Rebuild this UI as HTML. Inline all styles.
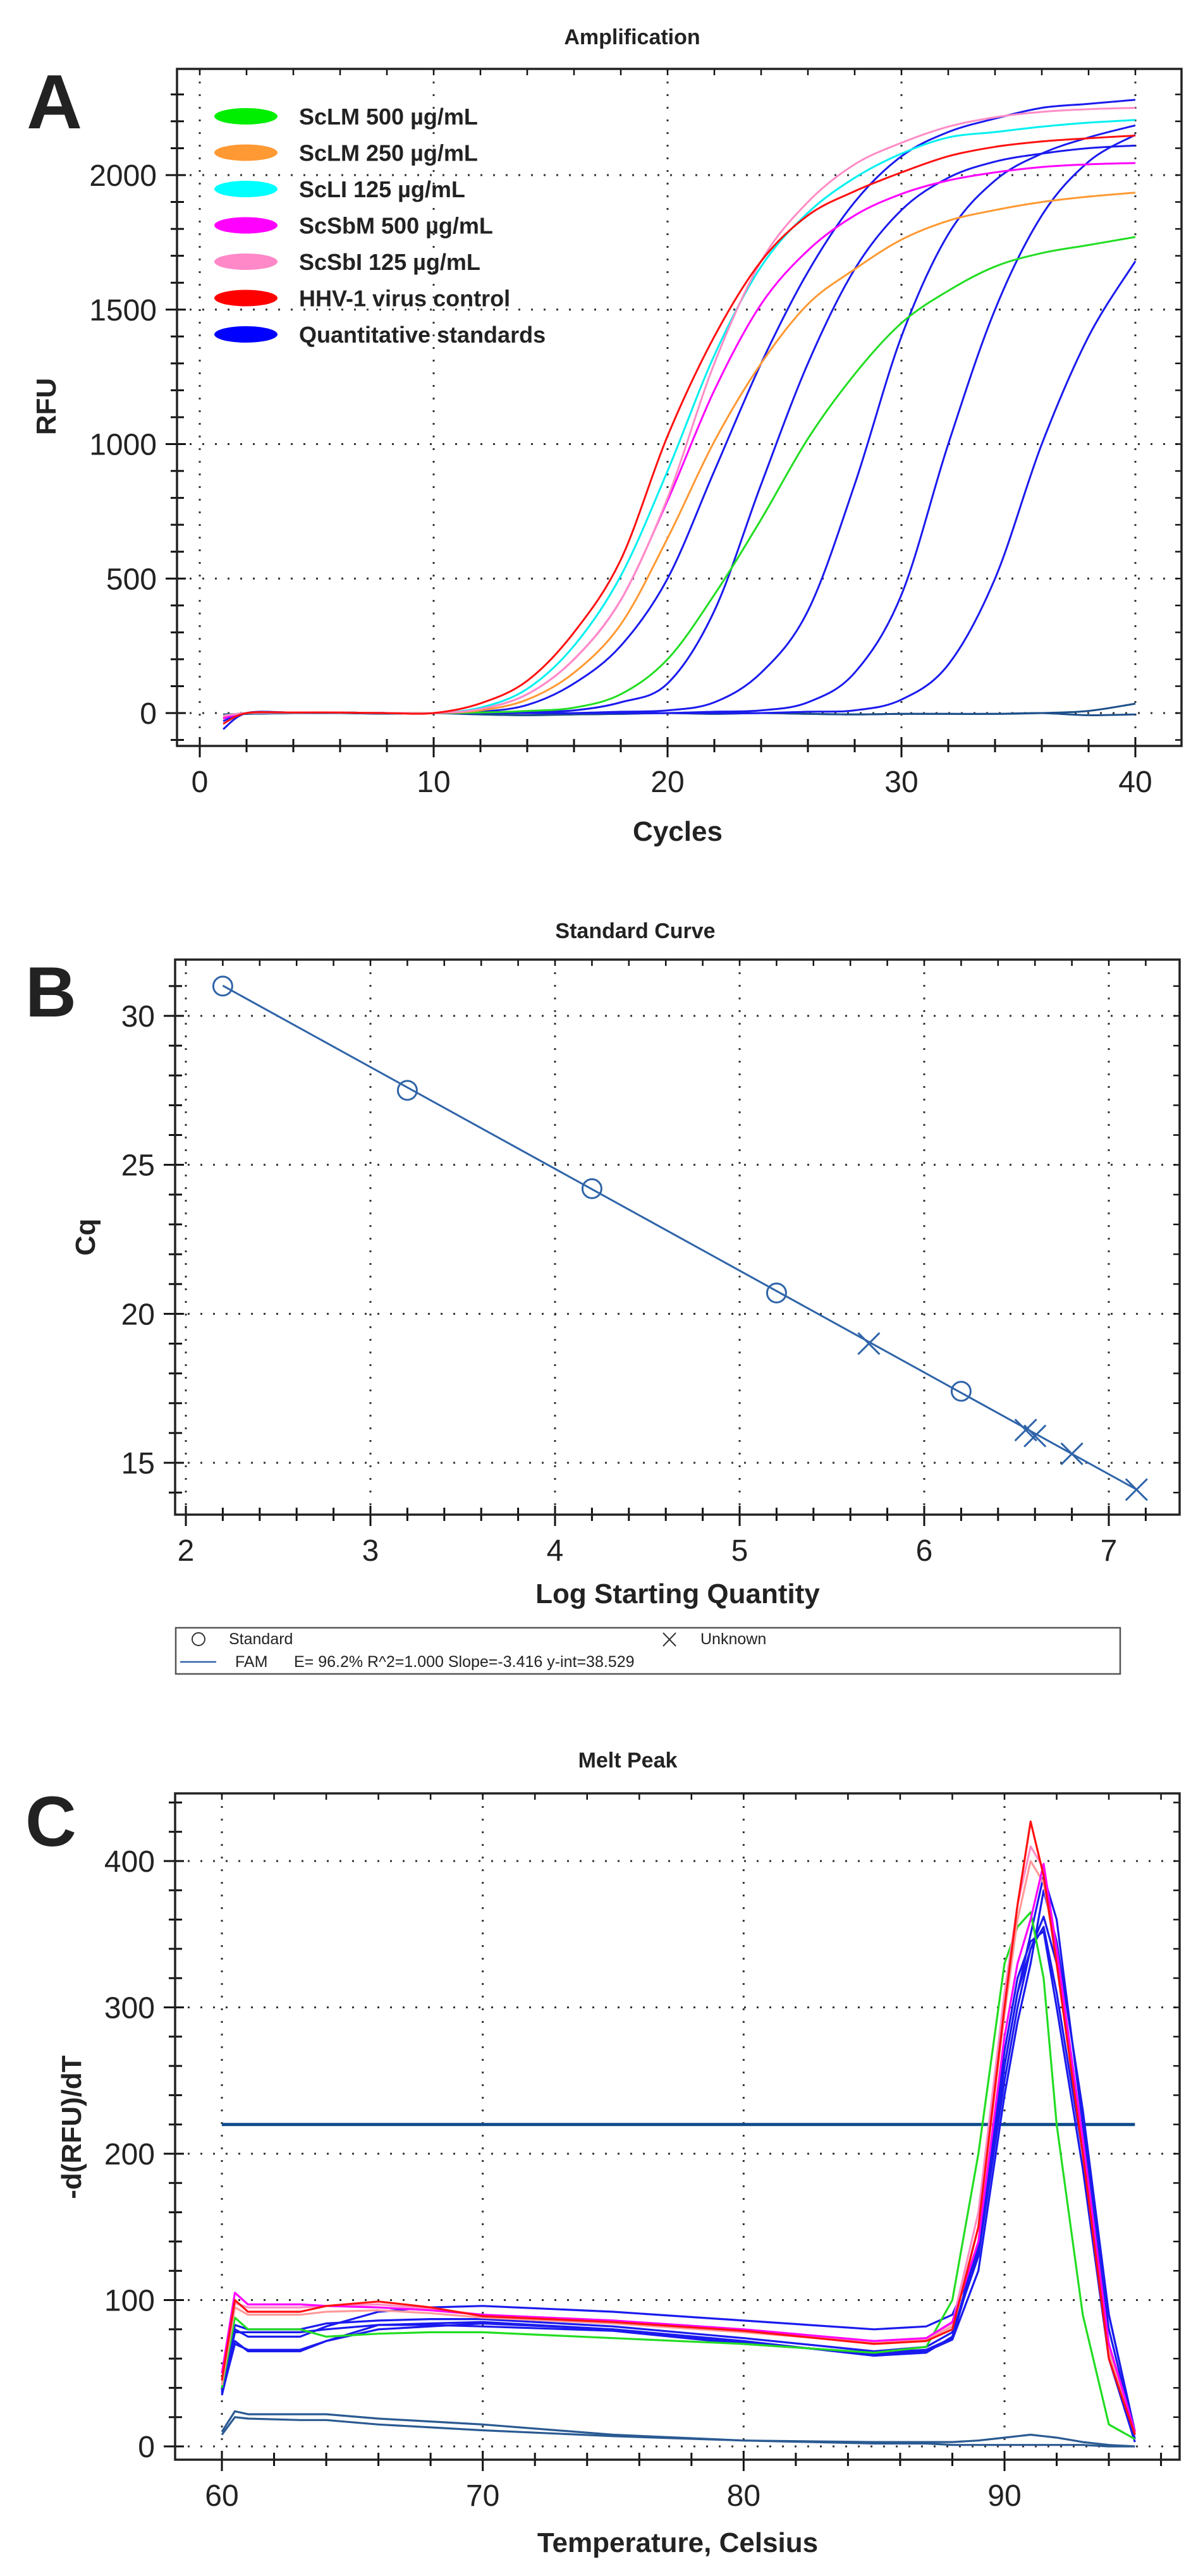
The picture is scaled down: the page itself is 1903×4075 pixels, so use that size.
<!DOCTYPE html>
<html><head><meta charset="utf-8"><title>qPCR figure</title>
<style>
html,body{margin:0;padding:0;background:#fff;}
svg{display:block;}
text{font-family:"Liberation Sans Narrow","Liberation Sans",sans-serif;fill:#222;}
.b{font-family:"Liberation Sans",sans-serif;font-weight:bold;}
</style></head>
<body>
<svg id="fig" width="1903" height="4075" viewBox="0 0 1903 4075" xmlns="http://www.w3.org/2000/svg">
<text class="b" x="42" y="203" font-size="122" fill="#2a2a2a">A</text>
<text class="b" x="40" y="1608" font-size="112" fill="#2a2a2a">B</text>
<text class="b" x="40" y="2920" font-size="112" fill="#2a2a2a">C</text>
<text class="b" x="1000" y="70" font-size="34" text-anchor="middle">Amplification</text>
<text class="b" x="1005" y="1484" font-size="34" text-anchor="middle">Standard Curve</text>
<text class="b" x="993" y="2796" font-size="34" text-anchor="middle">Melt Peak</text>
<text class="b" x="1072" y="1330" font-size="44" text-anchor="middle">Cycles</text>
<text class="b" x="88" y="643" font-size="44" text-anchor="middle" transform="rotate(-90 88 643)">RFU</text>
<text class="b" x="1072" y="2536" font-size="44" text-anchor="middle">Log Starting Quantity</text>
<text class="b" x="150" y="1957" font-size="44" text-anchor="middle" transform="rotate(-90 150 1957)">Cq</text>
<text class="b" x="1072" y="4037" font-size="44" text-anchor="middle">Temperature, Celsius</text>
<text class="b" x="128" y="3365" font-size="44" text-anchor="middle" transform="rotate(-90 128 3365)">-d(RFU)/dT</text>
<g id="gA"></g>
<g id="gB"></g>
<g id="gC"></g>
<g>
<rect x="278" y="2575" width="1494" height="73" fill="#fff" stroke="#555" stroke-width="2.5"/>
<circle cx="314" cy="2593" r="10" fill="none" stroke="#333" stroke-width="2"/>
<text x="362" y="2601" font-size="25" fill="#333">Standard</text>
<path d="M1049 2583 L1069 2604 M1069 2583 L1049 2604" stroke="#333" stroke-width="2"/>
<text x="1108" y="2601" font-size="25" fill="#333">Unknown</text>
<line x1="285" y1="2629" x2="342" y2="2629" stroke="#2f64a8" stroke-width="2.5"/>
<text x="372" y="2637" font-size="25" fill="#333">FAM</text>
<text x="465" y="2637" font-size="25" fill="#333">E= 96.2% R^2=1.000 Slope=-3.416 y-int=38.529</text>
</g>
</svg>
<script>
// ===== Panel A data =====
const cycles = [1,2,4,6,8,10,12,14,16,18,20,22,24,26,28,30,32,34,36,38,40];
const ampLabels = ["ScLM 500 µg/mL","ScLM 250 µg/mL","ScLI 125 µg/mL","ScSbM 500 µg/mL","ScSbI 125 µg/mL","HHV-1 virus control","Quantitative standards"];
const ampLegendColors = ["#00ee00","#ff9933","#00ffff","#ff00ff","#ff88c8","#ff0000","#0000ff"];
const ampGreen = [-10,0,2,2,0,0,2,8,20,70,200,440,720,1020,1260,1450,1570,1660,1710,1740,1770];
const ampOrange = [-15,0,2,2,0,0,10,50,150,330,650,1010,1300,1520,1650,1760,1830,1870,1900,1920,1935];
const ampCyan = [-10,0,2,2,0,0,20,90,250,510,900,1330,1660,1860,1990,2080,2140,2160,2180,2195,2205];
const ampMagenta = [-20,0,2,2,0,0,15,70,200,420,790,1200,1520,1720,1850,1930,1980,2010,2030,2040,2045];
const ampPink = [-10,0,2,2,0,0,15,70,200,420,800,1300,1680,1900,2040,2120,2180,2215,2235,2245,2250];
const ampRed = [-40,0,2,2,0,0,36,120,300,570,1030,1400,1680,1850,1940,2010,2070,2105,2125,2137,2147];
const ampBlue1 = [-60,0,2,2,0,0,5,30,110,250,500,900,1300,1640,1900,2070,2160,2210,2250,2265,2280];
const ampBlue2 = [-30,0,2,2,0,0,0,5,10,40,110,380,850,1300,1650,1870,1990,2050,2080,2100,2110];
const ampBlue3 = [-20,0,2,2,0,0,0,0,0,5,10,40,150,380,850,1400,1780,1980,2080,2140,2185];
const ampBlue4 = [-20,0,2,2,0,0,0,0,0,0,0,5,10,40,150,440,1000,1500,1850,2050,2150];
const ampBlue5 = [-20,0,2,2,0,0,0,0,0,0,0,0,0,5,10,50,180,500,1000,1400,1680];
const ampNeg1 = [-5,-3,0,0,-2,0,-5,-8,-5,-3,0,-3,0,-3,-5,-3,-3,-3,0,8,35];
const ampNeg2 = [-5,-3,0,0,-2,0,-5,-8,-5,-3,0,-3,0,-3,-5,-3,-3,-3,0,-8,-5];
const ampXTicks = [0,10,20,30,40];
const ampYTicks = [0,500,1000,1500,2000];

// ===== Panel B data =====
const stdLogQ = [2.2,3.2,4.2,5.2,6.2];
const stdCq = [31.0,27.5,24.2,20.7,17.4];
const unkLogQ = [5.7,6.55,6.6,6.8,7.15];
const unkCq = [19.0,16.1,15.9,15.3,14.1];
const fitSlope = -3.416;
const fitIntercept = 38.529;
const fitRange = [2.2,7.15];
const stdXTicks = [2,3,4,5,6,7];
const stdYTicks = [15,20,25,30];

// ===== Panel C data =====
const meltTemps = [60,60.5,61,63,64,66,68,70,75,80,85,87,88,89,90,90.5,91,91.5,92,93,94,95];
const meltRed = [45,100,92,92,96,99,95,89,85,79,70,72,80,150,300,370,427,390,330,200,60,8];
const meltPink = [45,98,95,95,96,97,94,90,86,80,72,74,84,160,310,370,410,395,340,210,70,10];
const meltOrange = [42,95,90,90,92,93,91,88,84,78,71,73,82,150,295,360,400,385,335,205,65,9];
const meltMagenta = [50,105,97,97,96,95,93,90,86,80,72,74,85,140,280,330,360,398,340,210,70,10];
const meltGreen = [40,88,80,80,75,77,78,78,74,70,64,68,100,200,330,355,365,320,220,90,15,5];
const meltBlue1 = [35,72,65,65,72,80,82,84,80,72,62,64,75,140,260,310,340,355,310,200,70,5];
const meltBlue2 = [38,80,75,75,82,92,95,96,92,86,80,82,90,130,250,300,340,362,330,210,80,8];
const meltBlue3 = [40,83,80,80,84,86,87,87,82,74,65,68,78,130,260,310,350,390,360,220,90,10];
const meltBlue4 = [37,78,78,78,80,83,84,85,80,71,63,65,73,120,240,290,330,380,345,230,90,10];
const meltBlue5 = [36,70,66,66,72,83,83,82,79,70,64,66,74,135,270,320,345,352,300,190,60,3];
const meltNeg1 = [10,24,22,22,22,19,17,15,8,4,3,3,3,4,6,7,8,7,6,3,1,0];
const meltNeg2 = [8,20,19,18,18,15,13,11,7,4,2,2,1,1,1,1,1,1,1,1,0,0];
const meltThreshold = 220;
const meltXTicks = [60,70,80,90];
const meltYTicks = [0,100,200,300,400];

const NS = "http://www.w3.org/2000/svg";
function mk(parent, tag, attrs){
  const e = document.createElementNS(NS, tag);
  for (const k in attrs) e.setAttribute(k, attrs[k]);
  parent.appendChild(e);
  return e;
}
function scale(d0,d1,r0,r1){ return v => r0 + (v-d0)/(d1-d0)*(r1-r0); }
function smoothPath(pts){
  let d = "M"+pts[0][0].toFixed(1)+" "+pts[0][1].toFixed(1);
  for (let i=0;i<pts.length-1;i++){
    const p0=pts[Math.max(0,i-1)], p1=pts[i], p2=pts[i+1], p3=pts[Math.min(pts.length-1,i+2)];
    const c1x=p1[0]+(p2[0]-p0[0])/6, c1y=p1[1]+(p2[1]-p0[1])/6;
    const c2x=p2[0]-(p3[0]-p1[0])/6, c2y=p2[1]-(p3[1]-p1[1])/6;
    d += " C"+c1x.toFixed(1)+" "+c1y.toFixed(1)+" "+c2x.toFixed(1)+" "+c2y.toFixed(1)+" "+p2[0].toFixed(1)+" "+p2[1].toFixed(1);
  }
  return d;
}
function frame(g, cfg, prefix){
  const {L,R,T,B,sx,sy,xTicks,yTicks,xMinor,yMinor,xr,yr,xFmt} = cfg;
  const grid = mk(g,"g",{});
  
  
  xTicks.forEach(v=>{ mk(grid,"line",{x1:sx(v),x2:sx(v),y1:T,y2:B,stroke:"#333","stroke-width":3,"stroke-dasharray":"3 17"}); });
  yTicks.forEach(v=>{ mk(grid,"line",{x1:L,x2:R,y1:sy(v),y2:sy(v),stroke:"#333","stroke-width":3,"stroke-dasharray":"3 17"}); });
  const ax = mk(g,"g",{});
  
  
  for (let v=xr[0]; v<=xr[1]+1e-9; v+=xMinor){
    const x=sx(v); const major = xTicks.some(t=>Math.abs(t-v)<1e-6);
    mk(ax,"line",{x1:x,x2:x,y1:B-(major?14:11),y2:B+(major?18:10),stroke:"#111","stroke-width":3});
    mk(ax,"line",{x1:x,x2:x,y1:T,y2:T+10,stroke:"#111","stroke-width":2.5});
  }
  for (let v=yr[0]; v<=yr[1]+1e-9; v+=yMinor){
    const y=sy(v); const major = yTicks.some(t=>Math.abs(t-v)<1e-6);
    mk(ax,"line",{x1:L-(major?18:10),x2:L+(major?14:11),y1:y,y2:y,stroke:"#111","stroke-width":3});
    mk(ax,"line",{x1:R-10,x2:R,y1:y,y2:y,stroke:"#111","stroke-width":2.5});
  }
  mk(ax,"rect",{x:L,y:T,width:R-L,height:B-T,fill:"none",stroke:"#222","stroke-width":3.5});
  xTicks.forEach(v=>{
    const t = mk(ax,"text",{x:sx(v),y:B+73,"font-size":48,"text-anchor":"middle"});
    t.textContent = xFmt ? xFmt(v) : v;
    
    
  });
  yTicks.forEach(v=>{
    const t = mk(ax,"text",{x:L-32,y:sy(v)+17,"font-size":48,"text-anchor":"end"});
    t.textContent = v;
    
    
  });
}

// ---- Panel A ----
(function(){
  const g = document.getElementById("gA");
  const L=280,R=1869,T=109,B=1180;
  const sx = scale(0,40,316,1796), sy = scale(0,2000,1128,277);
  frame(g,{L,R,T,B,sx,sy,xTicks:ampXTicks,yTicks:ampYTicks,xMinor:2,yMinor:100,xr:[0,40],yr:[-100,2300]},"a");
  const series = [
    [ampNeg1,"#1d4f8a","neg-control-1"],[ampNeg2,"#1d4f8a","neg-control-2"],
    [ampBlue5,"#1a1aee","standard-5"],[ampBlue4,"#1a1aee","standard-4"],[ampBlue3,"#1a1aee","standard-3"],
    [ampBlue2,"#1a1aee","standard-2"],[ampBlue1,"#1a1aee","standard-1"],
    [ampGreen,"#22dd22","sclm-500"],[ampOrange,"#ff9933","sclm-250"],[ampMagenta,"#ff00ff","scsbm-500"],
    [ampCyan,"#00f0f0","scli-125"],[ampPink,"#ff8cc6","scsbi-125"],[ampRed,"#ff1010","hhv1-control"]
  ];
  series.forEach(s=>{
    const pts = cycles.map((c,i)=>[sx(c),sy(s[0][i])]);
    const p = mk(g,"path",{d:smoothPath(pts),fill:"none",stroke:s[1],"stroke-width":3});
    
    
  });
  const lg = mk(g,"g",{});
  
  
  ampLabels.forEach((lab,i)=>{
    const y = 184 + i*57.5;
    mk(lg,"ellipse",{cx:389,cy:y,rx:50,ry:13,fill:ampLegendColors[i]});
    const t = mk(lg,"text",{x:473,y:y+13,"font-size":36,"font-weight":"bold",fill:"#333"});
    t.textContent = lab;
    
    
  });
})();

// ---- Panel B ----
(function(){
  const g = document.getElementById("gB");
  const L=277,R=1866,T=1518,B=2396;
  const sx = scale(2,7,294,1754), sy = scale(15,30,2314,1607);
  frame(g,{L,R,T,B,sx,sy,xTicks:stdXTicks,yTicks:stdYTicks,xMinor:0.2,yMinor:1,xr:[2,7.2],yr:[14,31]},"b");
  const fl = mk(g,"line",{x1:sx(fitRange[0]),y1:sy(fitIntercept+fitSlope*fitRange[0]),x2:sx(fitRange[1]),y2:sy(fitIntercept+fitSlope*fitRange[1]),stroke:"#2f64a8","stroke-width":3});
  
  
  stdLogQ.forEach((q,i)=>{
    const c = mk(g,"circle",{cx:sx(q),cy:sy(stdCq[i]),r:15,fill:"none",stroke:"#2f64a8","stroke-width":3});
    
    
  });
  unkLogQ.forEach((q,i)=>{
    const x=sx(q), y=sy(unkCq[i]);
    const p = mk(g,"path",{d:`M${x-17} ${y-17} L${x+17} ${y+17} M${x+17} ${y-17} L${x-17} ${y+17}`,stroke:"#2f64a8","stroke-width":3});
    
    
  });
})();

// ---- Panel C ----
(function(){
  const g = document.getElementById("gC");
  const L=277,R=1866,T=2837,B=3891;
  const sx = scale(60,90,351,1589), sy = scale(0,400,3870,2944);
  frame(g,{L,R,T,B,sx,sy,xTicks:meltXTicks,yTicks:meltYTicks,xMinor:2,yMinor:20,xr:[60,96],yr:[0,440]},"c");
  const th = mk(g,"line",{x1:sx(60),x2:sx(95),y1:sy(meltThreshold),y2:sy(meltThreshold),stroke:"#0d4a8a","stroke-width":5});
  
  
  const series = [
    [meltNeg1,"#2a5a92","neg-control-1"],[meltNeg2,"#2a5a92","neg-control-2"],
    [meltBlue1,"#1a1aee","standard-1"],[meltBlue2,"#1a1aee","standard-2"],[meltBlue3,"#1a1aee","standard-3"],
    [meltBlue4,"#1a1aee","standard-4"],[meltBlue5,"#1a1aee","standard-5"],
    [meltGreen,"#22dd22","sclm-500"],[meltOrange,"#ff9a9a","sclm-250"],[meltPink,"#ff8cc6","scsbi-125"],
    [meltMagenta,"#ff00ff","scsbm-500"],[meltRed,"#ff1010","hhv1-control"]
  ];
  series.forEach(s=>{
    const pts = meltTemps.map((t,i)=>[sx(t),sy(s[0][i])]);
    const d = "M"+pts.map(p=>p[0].toFixed(1)+" "+p[1].toFixed(1)).join(" L");
    const p = mk(g,"path",{d:d,fill:"none",stroke:s[1],"stroke-width":3.2,"stroke-linejoin":"round"});
    
    
  });
})();
</script>
</body></html>
